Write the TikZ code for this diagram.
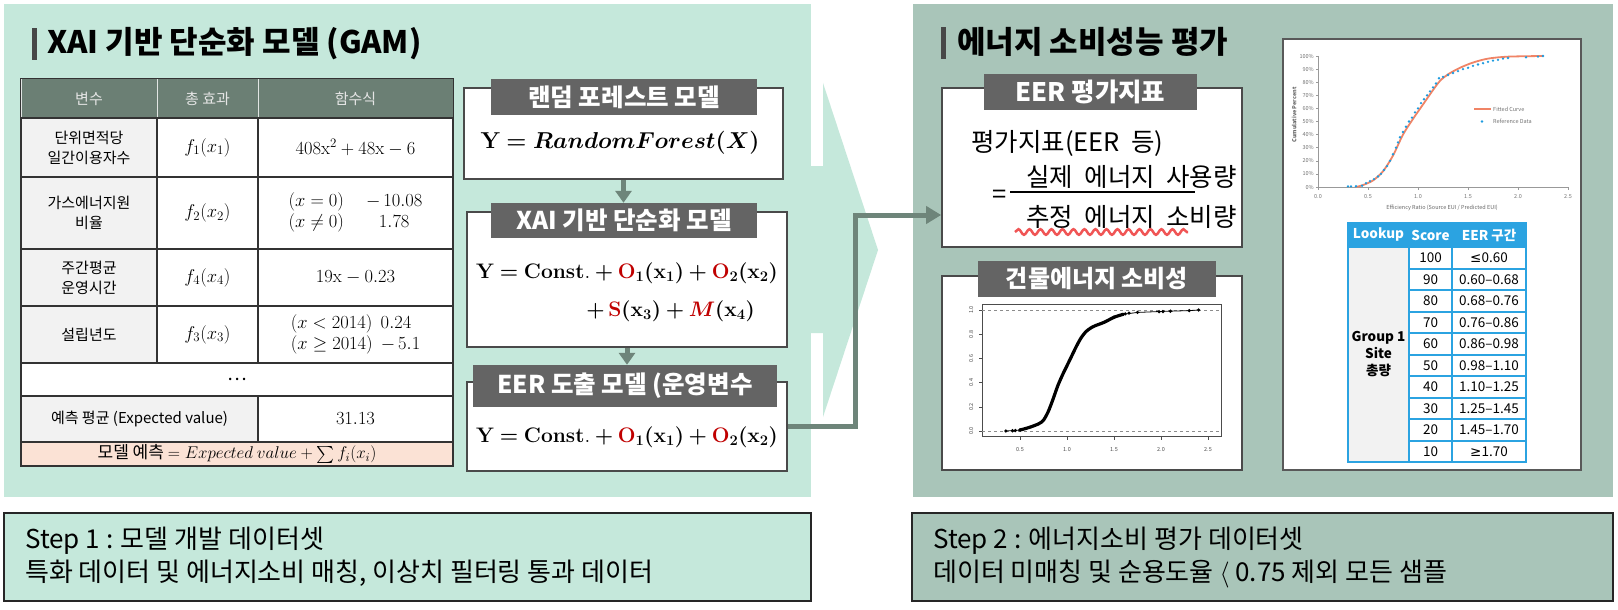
\RequirePackage{fix-cm}
\documentclass[tikz,border=0pt]{standalone}
\usepackage{amsmath,amssymb,bm}
\usepackage[no-math]{fontspec}
\setmainfont{Noto Sans CJK KR}
\newfontfamily\symfont{DejaVu Sans}
\newfontfamily\widefont[WordSpace=2]{Noto Sans CJK KR}
\usetikzlibrary{arrows.meta,positioning,decorations.pathmorphing}

\definecolor{mint}{HTML}{C5E8DB}
\definecolor{sage}{HTML}{A9C5B9}
\definecolor{bannergray}{HTML}{646464}
\definecolor{hdrgreen}{HTML}{6B7F74}
\definecolor{linkgreen}{HTML}{6E857A}
\definecolor{peach}{HTML}{FBE2D5}
\definecolor{cellgray}{HTML}{F2F2F2}
\definecolor{lookblue}{HTML}{2BA3E1}
\definecolor{fred}{HTML}{C00000}
\definecolor{wavyred}{HTML}{F05555}
\definecolor{fitorange}{HTML}{F08466}
\definecolor{refblue}{HTML}{1C9BDF}
\definecolor{boxline}{HTML}{4A4A4A}

\tikzset{
  ttl/.style={anchor=west, inner sep=0pt, font=\fontsize{31}{36}\selectfont\bfseries},
  tbar/.style={fill=black!72},
  hcell/.style={fill=hdrgreen, draw=white!80!hdrgreen, line width=1pt, text=white!90!black, inner sep=0pt, font=\fontsize{15}{19}\selectfont},
  gcell/.style={fill=cellgray, draw=black!80, line width=1.3pt, inner sep=0pt, align=center, font=\fontsize{15}{20}\selectfont},
  wcell/.style={gcell, fill=white, font=\fontsize{18.5}{21}\selectfont},
  flowbox/.style={draw=boxline, line width=1.6pt, fill=white, inner sep=0pt},
  banner/.style={fill=bannergray, text=white, inner sep=0pt, font=\fontsize{24.5}{28}\selectfont\bfseries},
  eqn/.style={inner sep=0pt, font=\fontsize{21}{24}\selectfont},
  flowarr/.style={draw=linkgreen, line width=5pt, -{Triangle[width=16pt,length=12pt]}},
  link/.style={draw=linkgreen, line width=5pt, -{Triangle[width=17pt,length=15pt]}},
  eertxt/.style={inner sep=0pt, font=\widefont\fontsize{25.5}{30}\selectfont},
  tick/.style={inner sep=1pt, font=\fontsize{5.5}{6}\selectfont, text=black!70},
  lhead/.style={fill=lookblue, draw=lookblue, line width=2pt, text=white, inner sep=0pt, font=\fontsize{13.5}{16}\selectfont\bfseries},
  lcell/.style={fill=white, draw=lookblue, line width=2pt, inner sep=0pt, font=\fontsize{13.5}{16}\selectfont},
  stepbox/.style={draw=black!85, line width=2pt, inner sep=0pt},
  steptxt/.style={anchor=west, align=left, inner sep=0pt, font=\fontsize{26}{33}\selectfont},
}

\begin{document}
\begin{tikzpicture}[x=1pt, y=-1pt]
  \useasboundingbox (0,0) rectangle (1618,610);
  \fill[white] (0,0) rectangle (1618,610);

  % panels
  \fill[mint] (4,4) rectangle (811,497);
  \fill[mint] (811,166) -- (823,166) -- (823,83) -- (878,250) -- (823,417) -- (823,333) -- (811,333) -- cycle;
  \fill[sage] (913,4) rectangle (1613,497);

  \fill[tbar] (32,28) rectangle (37,60);
  \node[ttl] (title1) at (47,44) {XAI 기반 단순화 모델 (GAM)};
  \fill[tbar] (941,27) rectangle (946,59);
  \node[ttl] (title2) at (957,42) {에너지 소비성능 평가};

  % GAM table
  \node[hcell, minimum width=136pt, minimum height=39pt] (h1) at (89,98.5) {변수};
  \node[hcell, minimum width=101pt, minimum height=39pt] (h2) at (207.5,98.5) {총 효과};
  \node[hcell, minimum width=195pt, minimum height=39pt] (h3) at (355.5,98.5) {함수식};

  \node[gcell, minimum width=136pt, minimum height=59pt] (v1) at (89,147.5) {단위면적당\\일간이용자수};
  \node[wcell, minimum width=101pt, minimum height=59pt] (e1) at (207.5,147.5) {$f_1(x_1)$};
  \node[wcell, minimum width=195pt, minimum height=59pt] (q1) at (355.5,147.5) {$408\mathrm{x}^2+48\mathrm{x}-6$};

  \node[gcell, minimum width=136pt, minimum height=72pt] (v2) at (89,213) {가스에너지원\\비율};
  \node[wcell, minimum width=101pt, minimum height=72pt] (e2) at (207.5,213) {$f_2(x_2)$};
  \node[wcell, minimum width=195pt, minimum height=72pt] (q2) at (355.5,213)
    {\begin{tabular}{@{}l@{\hspace{22pt}}c@{}}$(x=0)$ & $-\,10.08$\\ $(x\neq0)$ & $1.78$\end{tabular}};

  \node[gcell, minimum width=136pt, minimum height=57pt] (v3) at (89,277.5) {주간평균\\운영시간};
  \node[wcell, minimum width=101pt, minimum height=57pt] (e3) at (207.5,277.5) {$f_4(x_4)$};
  \node[wcell, minimum width=195pt, minimum height=57pt] (q3) at (355.5,277.5) {$19\mathrm{x}-0.23$};

  \node[gcell, minimum width=136pt, minimum height=57pt] (v4) at (89,334.5) {설립년도};
  \node[wcell, minimum width=101pt, minimum height=57pt] (e4) at (207.5,334.5) {$f_3(x_3)$};
  \node[wcell, minimum width=195pt, minimum height=57pt] (q4) at (355.5,334.5)
    {\begin{tabular}{@{}l@{\hspace{8pt}}l@{}}$(x<2014)$ & $0.24$\\ $(x\geq2014)$ & $-\,5.1$\end{tabular}};

  \node[wcell, minimum width=432pt, minimum height=33pt] (more) at (237,379.5) {\dots};
  \node[gcell, minimum width=237pt, minimum height=46pt] (ev) at (139.5,419) {예측 평균 (Expected value)};
  \node[wcell, minimum width=195pt, minimum height=46pt] (evn) at (355.5,419) {$31.13$};
  \node[gcell, fill=peach, minimum width=432pt, minimum height=24pt, font=\fontsize{17}{18}\selectfont] (pred) at (237,454)
    {모델 예측 $= Expected\ value + \sum f_i(x_i)$};
  \draw[black!80, line width=1.5pt] (h1.north west) rectangle (pred.south east);

  % model flow
  \node[flowbox, minimum width=319pt, minimum height=91pt] (rfbox) at (623.5,133.5) {};
  \node[banner, minimum width=266pt, minimum height=36pt] (rfban) at (624,97) {랜덤 포레스트 모델};
  \node[eqn, font=\fontsize{23}{26}\selectfont] (rfeq) at (620,143) {$\mathbf{Y} \bm{=} \bm{RandomForest}\bm{(}\bm{X}\bm{)}$};

  \node[flowbox, minimum width=320pt, minimum height=135pt] (xaibox) at (627,279.5) {};
  \node[banner, minimum width=266pt, minimum height=35pt] (xaiban) at (624,220.5) {XAI 기반 단순화 모델};
  \node[eqn] (xaieq) at (627,273) {$\mathbf{Y} \bm{=} \mathbf{Const.} \bm{+} \textcolor{fred}{\mathbf{O}}_{\mathbf{1}}\bm{(}\mathbf{x}_{\mathbf{1}}\bm{)} \bm{+} \textcolor{fred}{\mathbf{O}}_{\mathbf{2}}\bm{(}\mathbf{x}_{\mathbf{2}}\bm{)}$};
  \node[eqn, anchor=east] (xaieqb) at (755,311) {$\bm{+}\,\textcolor{fred}{\mathbf{S}}\bm{(}\mathbf{x}_{\mathbf{3}}\bm{)} \bm{+} \textcolor{fred}{\bm{M}}\bm{(}\mathbf{x}_{\mathbf{4}}\bm{)}$};

  \node[flowbox, minimum width=320pt, minimum height=89pt] (derbox) at (627,426.5) {};
  \node[banner, minimum width=304pt, minimum height=42pt] (derban) at (625,386) {EER 도출 모델 (운영변수};
  \node[eqn] (dereq) at (627,437) {$\mathbf{Y} \bm{=} \mathbf{Const.} \bm{+} \textcolor{fred}{\mathbf{O}}_{\mathbf{1}}\bm{(}\mathbf{x}_{\mathbf{1}}\bm{)} \bm{+} \textcolor{fred}{\mathbf{O}}_{\mathbf{2}}\bm{(}\mathbf{x}_{\mathbf{2}}\bm{)}$};

  \draw[flowarr] (rfbox.south) -- (rfbox.south |- xaiban.north);
  \draw[flowarr] (xaibox.south) -- (xaibox.south |- derban.north);

  % EER index box
  \node[flowbox, minimum width=300pt, minimum height=159pt] (eerbox) at (1092,167.5) {};
  \node[banner, minimum width=213pt, minimum height=36pt, font=\fontsize{25.5}{28}\selectfont\bfseries] (eerban) at (1090.5,92) {EER 평가지표};
  \node[eertxt, anchor=west] (ratio) at (971,143) {평가지표(EER 등)};
  \node[eertxt, anchor=west] (eqs) at (992,197) {=};
  \node[eertxt, anchor=west] (num) at (1026,177) {실제 에너지 사용량};
  \node[eertxt, anchor=west] (den) at (1026,217) {추정 에너지 소비량};
  \draw[line width=1.6pt] (1010,192) -- (1195,192);
  \draw[wavyred, line width=2.5pt, decorate, decoration={snake, amplitude=2.8pt, segment length=11pt}] (1015,232) -- (1188,232);

  \coordinate (bend) at (855,215);
  \draw[link] (derbox.east) -| (bend) -- (bend -| eerbox.west);

  % building energy plot
  \node[flowbox, minimum width=300pt, minimum height=194pt] (bldbox) at (1092,373) {};
  \node[banner, minimum width=238pt, minimum height=36pt, font=\fontsize{24}{28}\selectfont\bfseries] (bldban) at (1097,279) {건물에너지 소비성};
  \begin{scope}[shift={(973,431)}, x=94pt, y=121pt]
    \draw[black!70, line width=0.7pt] (0.096,-0.041) rectangle (2.638,1.05);
    \draw[black!45, dashed, line width=0.5pt] (0.096,0) -- (2.638,0) (0.096,1) -- (2.638,1);
    \foreach \v in {0.0,0.2,0.4,0.6,0.8,1.0} {
      \draw[black!70, line width=0.5pt] (0.096,\v) -- (0.06,\v);
      \node[tick, rotate=90] at (-0.02,\v) {\v};
    }
    \foreach \v in {0.5,1.0,1.5,2.0,2.5} {
      \draw[black!70, line width=0.5pt] (\v,-0.041) -- (\v,-0.075);
      \node[tick] at (\v,-0.15) {\v};
    }
    \draw[black, line width=0.8pt] (0.35,0) -- (0.5,0.008);
    \draw[black, line width=3.2pt, line cap=round] plot[smooth] coordinates {(0.5,0.008) (0.6,0.03) (0.7,0.06) (0.75,0.09) (0.8,0.16) (0.85,0.26) (0.9,0.37) (0.95,0.46) (1.0,0.54) (1.05,0.62) (1.1,0.7) (1.15,0.77) (1.2,0.82) (1.25,0.85) (1.3,0.87) (1.4,0.9) (1.5,0.94) (1.6,0.965)};
    \draw[black, line width=0.8pt] (1.6,0.965) -- (1.75,0.98) -- (2.0,0.988) -- (2.3,0.995) -- (2.4,1.0);
    \foreach \p in {(0.35,0),(0.42,0.002),(0.45,0.004),(0.5,0.008),(1.5,0.94),(1.62,0.968),(1.66,0.974),(1.75,0.98),(1.98,0.986),(2.02,0.987),(2.1,0.99),(2.3,0.995),(2.4,1.0)}
      \fill[black] \p circle (1.8pt);
  \end{scope}

  % Energy Star lookup
  \node[draw=black!65, line width=2.2pt, fill=white, minimum width=298pt, minimum height=431pt, inner sep=0pt] (starbox) at (1432,254.5) {};
  \begin{scope}[shift={(1318,187)}, x=100pt, y=131pt]
    \draw[black!40, line width=0.8pt] (0,1) -- (0,0) -- (2.5,0);
    \foreach \v in {0,10,...,100} {
      \draw[black!40, line width=0.5pt] (0,\v/100) -- (-0.025,\v/100);
      \node[tick, anchor=east, text=black!55] at (-0.03,\v/100) {\v\%};
    }
    \foreach \v in {0.0,0.5,1.0,1.5,2.0,2.5} {
      \draw[black!40, line width=0.5pt] (\v,0) -- (\v,-0.025);
      \node[tick, text=black!55] at (\v,-0.07) {\v};
    }
    \node[tick, text=black!60] at (1.24,-0.16) {Efficiency Ratio (Source EUI / Predicted EUI)};
    \node[tick, rotate=90, text=black!60, font=\fontsize{5.5}{6}\selectfont\bfseries] at (-0.24,0.55) {Cumulative Percent};
    \draw[fitorange, line width=1.8pt] plot[smooth] coordinates {(0.38,0) (0.45,0.015) (0.55,0.05) (0.65,0.12) (0.75,0.24) (0.85,0.4) (0.95,0.52) (1.05,0.63) (1.15,0.74) (1.22,0.81) (1.3,0.86) (1.42,0.91) (1.55,0.95) (1.7,0.98) (1.9,0.995) (2.25,1.0)};
    \foreach \p in {(0.3,0.005),(0.33,0.005),(0.38,0.006),(0.44,0.01),(0.48,0.03),(0.52,0.045),(0.56,0.06),(0.6,0.08),(0.63,0.1),(0.66,0.13),(0.69,0.16),(0.72,0.2),(0.75,0.25),(0.78,0.3),(0.8,0.34),(0.82,0.38),(0.85,0.42),(0.88,0.46),(0.91,0.5),(0.94,0.53),(0.97,0.57),(1.0,0.6),(1.03,0.64),(1.06,0.67),(1.09,0.7),(1.12,0.73),(1.15,0.76),(1.18,0.79),(1.21,0.83),(1.25,0.84),(1.3,0.855),(1.35,0.87),(1.4,0.885),(1.45,0.9),(1.5,0.91),(1.55,0.925),(1.6,0.935),(1.65,0.945),(1.7,0.955),(1.75,0.965),(1.8,0.97),(1.85,0.98),(1.9,0.985),(2.08,0.99),(2.2,0.995),(2.25,1.0)}
      \fill[refblue] \p circle (1.3pt);
    \draw[fitorange, line width=1.8pt] (1.56,0.595) -- (1.73,0.595);
    \node[tick, anchor=west, text=black!55] at (1.74,0.595) {Fitted Curve};
    \fill[refblue] (1.64,0.5) circle (1.3pt);
    \node[tick, anchor=west, text=black!55] at (1.74,0.5) {Reference Data};
  \end{scope}

  \node[lhead, minimum width=61pt, minimum height=24pt] (lkp) at (1378.5,235) {Lookup};
  \node[lhead, minimum width=43pt, minimum height=24pt] (lsc) at (1430.5,235) {Score};
  \node[lhead, minimum width=74pt, minimum height=24pt] (lrg) at (1489,235) {EER 구간};
  \node[lcell, fill=cellgray, align=center, minimum width=61pt, minimum height=215pt, font=\fontsize{13.5}{17}\selectfont\bfseries] (grp) at (1378.5,354.5) {Group 1\\Site\\총량};
  \foreach \pts/\band [count=\i] in {100/{{\symfont ≤}0.60}, 90/0.60–0.68, 80/0.68–0.76, 70/0.76–0.86, 60/0.86–0.98, 50/0.98–1.10, 40/1.10–1.25, 30/1.25–1.45, 20/1.45–1.70, 10/{{\symfont ≥}1.70}} {
    \node[lcell, minimum width=43pt, minimum height=21.5pt] (sc\i) at (1430.5,{247+21.5*(\i-0.5)}) {\pts};
    \node[lcell, minimum width=74pt, minimum height=21.5pt] (rg\i) at (1489,{247+21.5*(\i-0.5)}) {\band};
  }

  % steps
  \node[stepbox, fill=mint, minimum width=807pt, minimum height=88pt] (step1) at (407.5,557) {};
  \node[steptxt, right=22pt of step1.west] (step1txt) {Step 1 : 모델 개발 데이터셋\\특화 데이터 및 에너지소비 매칭, 이상치 필터링 통과 데이터};
  \node[stepbox, fill=sage, minimum width=701pt, minimum height=88pt] (step2) at (1262.5,557) {};
  \node[steptxt, right=22pt of step2.west] (step2txt) {Step 2 : 에너지소비 평가 데이터셋\\데이터 미매칭 및 순용도율 $\langle$ 0.75 제외 모든 샘플};

\end{tikzpicture}
\end{document}
